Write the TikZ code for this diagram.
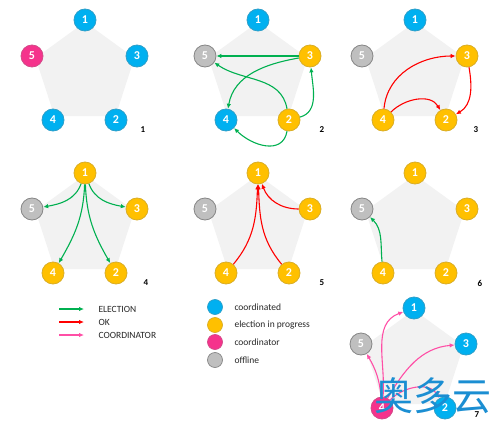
\documentclass[tikz,border=0pt]{standalone}
\usepackage{fontspec}
\setmainfont{Carlito}
\newfontfamily\cjkfont{Noto Sans CJK SC}
\usetikzlibrary{arrows.meta,shapes.geometric}
\definecolor{cblue}{HTML}{00B0F0}
\definecolor{corange}{HTML}{FFC000}
\definecolor{cpink}{HTML}{F5338C}
\definecolor{cgray}{HTML}{BFBFBF}
\definecolor{pentgray}{HTML}{F2F2F2}
\definecolor{agreen}{HTML}{00B050}
\definecolor{ared}{HTML}{FF0000}
\definecolor{apink}{HTML}{FF4FA6}
\definecolor{wmblue}{HTML}{1B8ED2}
\tikzset{
  nd/.style={circle, minimum size=22pt, inner sep=0pt, line width=0.8pt,
    font=\bfseries\fontsize{12}{12}\selectfont, text=white},
  nblue/.style={nd, fill=cblue, draw=cblue!65!gray},
  norange/.style={nd, fill=corange, draw=corange!70!gray},
  npink/.style={nd, fill=cpink, draw=cpink!70!gray},
  ngray/.style={nd, fill=cgray, draw=cgray!70!black},
  pent/.style={regular polygon, regular polygon sides=5, minimum size=104pt,
    inner sep=0pt, fill=pentgray},
  plabel/.style={font=\bfseries\fontsize{9}{9}\selectfont, text=black},
  arr/.style={line width=1.1pt, -{Latex[length=5pt,width=4.5pt]}},
  elec/.style={arr, draw=agreen},
  okarr/.style={arr, draw=ared},
  coordarr/.style={arr, draw=apink},
  legtext/.style={anchor=west, font=\fontsize{9.5}{10}\selectfont, text=black!85},
  legdot/.style={circle, minimum size=15pt, inner sep=0pt, line width=0.7pt}
}
\newcommand\drawpanel[8]{%
  \node[pent] (#1p) at (#2+85,#3-74) {};
  \node[#4] (#11) at (#2+85,#3-20) {1};
  \node[#5] (#12) at (#2+116,#3-120) {2};
  \node[#6] (#13) at (#2+137,#3-56) {3};
  \node[#7] (#14) at (#2+53,#3-120) {4};
  \node[#8] (#15) at (#2+32,#3-56) {5};
}
\begin{document}
\begin{tikzpicture}[x=1pt,y=1pt]
\useasboundingbox (0,-425) rectangle (500,0);
% panel 1
\drawpanel{a}{0}{0}{nblue}{nblue}{nblue}{nblue}{npink}
\node[plabel] (la) at (143,-130) {1};
% panel 2
\drawpanel{b}{173}{0}{nblue}{norange}{norange}{nblue}{ngray}
\node[plabel] (lb) at (322,-130) {2};
\draw[elec] (b3) -- (b5);
\draw[elec] (b3) to[out=190,in=80] (b4);
\draw[elec] (b2) to[out=100,in=-35] (b5);
\draw[elec] (b2) to[out=15,in=-85] (b3);
\draw[elec] (b2) to[out=-100,in=-45,looseness=1.2] (b4);
% panel 3
\drawpanel{c}{330}{0}{nblue}{norange}{norange}{norange}{ngray}
\node[plabel] (lc) at (476,-130) {3};
\draw[okarr] (c4) to[out=85,in=180] (c3);
\draw[okarr] (c4) to[out=45,in=120] (c2);
\draw[okarr] (c3) to[out=-80,in=30] (c2);
% panel 4
\drawpanel{d}{0}{-153}{norange}{norange}{norange}{norange}{ngray}
\node[plabel] (ld) at (146,-283) {4};
\draw[elec] (d1) to[out=-110,in=10] (d5);
\draw[elec] (d1) to[out=-70,in=170] (d3);
\draw[elec] (d1) to[out=-92,in=60] (d4);
\draw[elec] (d1) to[out=-88,in=120] (d2);
% panel 5
\drawpanel{e}{173}{-153}{norange}{norange}{norange}{norange}{ngray}
\node[plabel] (le) at (322,-283) {5};
\draw[okarr] (e3) to[out=180,in=-70] (e1);
\draw[okarr] (e4) to[out=50,in=-92] (e1);
\draw[okarr] (e2) to[out=130,in=-88] (e1);
% panel 6
\drawpanel{f}{330}{-153}{norange}{norange}{norange}{norange}{ngray}
\node[plabel] (lf) at (480,-283) {6};
\draw[elec] (f4) to[out=95,in=-45] (f5);
% panel 7
\drawpanel{g}{329}{-288}{nblue}{nblue}{nblue}{npink}{ngray}
\draw[coordarr] (g4) to[out=85,in=200] (g1);
\draw[coordarr] (g4) to[out=95,in=-60] (g5);
\draw[coordarr] (g4) to[out=60,in=185] (g3);
\draw[coordarr] (g4) to[out=45,in=120] (g2);
\node[font=\cjkfont\fontsize{39}{39}\selectfont, text=wmblue] (wm) at (433,-396) {奥多云};
\node[plabel] (lg) at (477,-415) {7};
% legend arrows
\coordinate (l1s) at (59,-309); \coordinate (l1e) at (84,-309);
\coordinate (l2s) at (59,-322); \coordinate (l2e) at (84,-322);
\coordinate (l3s) at (59,-335); \coordinate (l3e) at (84,-335);
\draw[elec] (l1s) -- (l1e);
\draw[okarr] (l2s) -- (l2e);
\draw[coordarr] (l3s) -- (l3e);
\node[legtext] (t1) at (95,-309) {ELECTION};
\node[legtext] (t2) at (95,-322) {OK};
\node[legtext] (t3) at (95,-335) {COORDINATOR};
% legend states
\node[legdot, fill=cblue, draw=cblue!65!gray] (d1l) at (215,-307) {};
\node[legdot, fill=corange, draw=corange!70!gray] (d2l) at (215,-325) {};
\node[legdot, fill=cpink, draw=cpink!70!gray] (d3l) at (215,-342) {};
\node[legdot, fill=cgray, draw=cgray!70!black] (d4l) at (215,-360) {};
\node[legtext] (s1) at (231,-307) {coordinated};
\node[legtext] (s2) at (231,-325) {election in progress};
\node[legtext] (s3) at (231,-342) {coordinator};
\node[legtext] (s4) at (231,-360) {offline};
\end{tikzpicture}
\end{document}
